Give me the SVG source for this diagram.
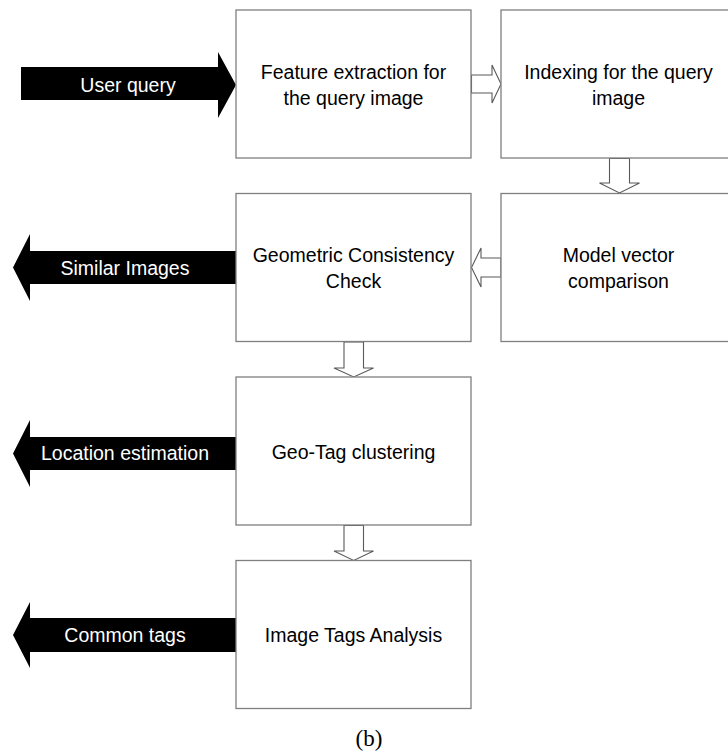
<svg xmlns="http://www.w3.org/2000/svg" width="728" height="754" viewBox="0 0 728 754">
<style>
.box{fill:#fff;stroke:#7f7f7f;stroke-width:1.3}
.t{font-family:"Liberation Sans",Arial,sans-serif;font-size:19.5px;fill:#000;text-anchor:middle}
.w{font-family:"Liberation Sans",Arial,sans-serif;font-size:19.5px;fill:#fff;text-anchor:middle}
.big{fill:#000;stroke:none}
.hol{fill:#fff;stroke:#595959;stroke-width:1.1;stroke-linejoin:miter}
</style>
<rect width="728" height="754" fill="#fff"/>
<g id="connectors">
  <g id="in-user-query">
    <polygon class="big" points="21,67 218,67 218,52 236,85 218,118 218,100 21,100"/>
    <text class="w" x="128" y="92">User query</text>
  </g>
  <g id="out-similar">
    <polygon class="big" points="236,251 30,251 30,234 13,267.5 30,301 30,284 236,284"/>
    <text class="w" x="125" y="275">Similar Images</text>
  </g>
  <g id="out-location">
    <polygon class="big" points="236,437 30,437 30,420 13,453.5 30,487 30,470 236,470"/>
    <text class="w" x="125" y="460">Location estimation</text>
  </g>
  <g id="out-common">
    <polygon class="big" points="236,618 30,618 30,602 13,635 30,668 30,652 236,652"/>
    <text class="w" x="125" y="642">Common tags</text>
  </g>
  <polygon class="hol" points="471.5,75 492,75 492,65 501,84 492,103 492,93 471.5,93"/>
  <polygon class="hol" points="609.5,158.5 629.5,158.5 629.5,183 639.5,183 619.5,193 599.5,183 609.5,183"/>
  <polygon class="hol" points="501,258 481,258 481,248 471.5,267.5 481,287 481,277 501,277"/>
  <polygon class="hol" points="344,342 363.5,342 363.5,368 373.5,368 353.7,377 334,368 344,368"/>
  <polygon class="hol" points="344,525.5 363.5,525.5 363.5,551 373.5,551 353.7,560.5 334,551 344,551"/>
</g>
<g id="n1">
  <rect class="box" x="236" y="10" width="235" height="148"/>
  <text class="t" x="353.5" y="79">Feature extraction for</text>
  <text class="t" x="353.5" y="105">the query image</text>
</g>
<g id="n2">
  <rect class="box" x="501" y="10" width="235" height="148"/>
  <text class="t" x="618.5" y="79">Indexing for the query</text>
  <text class="t" x="618.5" y="105">image</text>
</g>
<g id="n3">
  <rect class="box" x="236" y="193.5" width="235" height="148"/>
  <text class="t" x="353.5" y="262">Geometric Consistency</text>
  <text class="t" x="353.5" y="288">Check</text>
</g>
<g id="n4">
  <rect class="box" x="501" y="193.5" width="235" height="148"/>
  <text class="t" x="618.5" y="262">Model vector</text>
  <text class="t" x="618.5" y="288">comparison</text>
</g>
<g id="n5">
  <rect class="box" x="236" y="377" width="235" height="148"/>
  <text class="t" x="353.5" y="459">Geo-Tag clustering</text>
</g>
<g id="n6">
  <rect class="box" x="236" y="560.5" width="235" height="148"/>
  <text class="t" x="353.5" y="642">Image Tags Analysis</text>
</g>
<text x="369" y="746" font-family="'Liberation Serif','Times New Roman',serif" font-size="23" text-anchor="middle" fill="#000">(b)</text>
</svg>
